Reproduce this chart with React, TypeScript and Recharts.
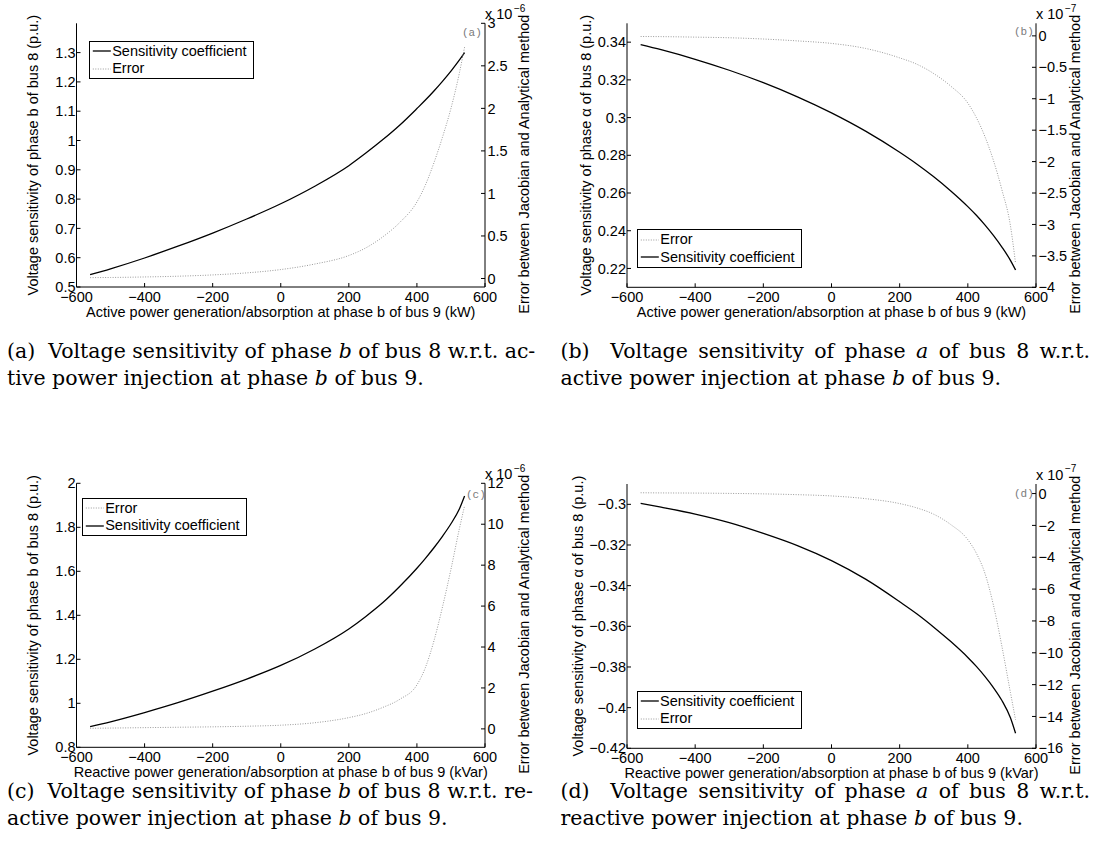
import React from 'react';
import { LineChart, Line, XAxis, YAxis, Legend } from 'recharts';

// ---------- data ----------
const xPower = [-560, -500, -400, -300, -200, -100, 0, 100, 200, 250, 300, 350, 400, 425, 450, 475, 500, 525, 540];
const xTicks = [-600, -400, -200, 0, 200, 400, 600];

const sensA = [0.542, 0.562, 0.599, 0.64, 0.684, 0.732, 0.784, 0.844, 0.914, 0.957, 1.003, 1.053, 1.109, 1.138, 1.169, 1.202, 1.237, 1.275, 1.3];
const errA = [0.01, 0.012, 0.018, 0.027, 0.042, 0.066, 0.105, 0.17, 0.27, 0.36, 0.49, 0.66, 0.9, 1.1, 1.36, 1.66, 2.0, 2.42, 2.72];

const sensB = [0.3387, 0.336, 0.3309, 0.3251, 0.3185, 0.311, 0.3025, 0.2928, 0.2816, 0.2754, 0.2686, 0.2611, 0.2528, 0.2482, 0.2431, 0.2375, 0.2313, 0.2243, 0.2192];
const errB = [-0.01, -0.012, -0.02, -0.03, -0.05, -0.08, -0.12, -0.2, -0.35, -0.45, -0.6, -0.8, -1.07, -1.3, -1.6, -1.98, -2.45, -3.02, -3.62];

const sensC = [0.894, 0.916, 0.958, 1.004, 1.055, 1.11, 1.172, 1.247, 1.338, 1.395, 1.458, 1.532, 1.614, 1.659, 1.707, 1.759, 1.816, 1.884, 1.942];
const errC = [0.03, 0.04, 0.06, 0.08, 0.1, 0.13, 0.18, 0.3, 0.55, 0.75, 1.05, 1.45, 2.15, 3.0, 4.3, 5.95, 7.8, 9.8, 10.9];

const sensD = [-0.2995, -0.3014, -0.3048, -0.309, -0.3143, -0.3203, -0.3277, -0.3368, -0.3479, -0.3538, -0.3604, -0.3675, -0.3753, -0.3797, -0.3846, -0.3901, -0.3965, -0.405, -0.4126];
const errD = [0.05, 0.04, 0.03, 0.01, -0.02, -0.07, -0.15, -0.32, -0.63, -0.9, -1.3, -1.95, -2.9, -3.75, -5.0, -7.0, -9.6, -12.5, -14.2];

const leftTicksA = [0.5, 0.6, 0.7, 0.8, 0.9, 1, 1.1, 1.2, 1.3];
const rightTicksA = [0, 0.5, 1, 1.5, 2, 2.5, 3];
const leftTicksB = [0.22, 0.24, 0.26, 0.28, 0.3, 0.32, 0.34];
const rightTicksB = [-4, -3.5, -3, -2.5, -2, -1.5, -1, -0.5, 0];
const leftTicksC = [0.8, 1, 1.2, 1.4, 1.6, 1.8, 2];
const rightTicksC = [0, 2, 4, 6, 8, 10, 12];
const leftTicksD = [-0.42, -0.4, -0.38, -0.36, -0.34, -0.32, -0.3];
const rightTicksD = [-16, -14, -12, -10, -8, -6, -4, -2, 0];

const SENS = 'Sensitivity coefficient';
const ERR = 'Error';

const FS = 14.5;
const fmt = (v: number) => String(v).replace('-', '\u2212');

const seriesStyle: Record<string, { stroke: string; width: number; dash?: string }> = {
  [SENS]: { stroke: '#000', width: 1.3 },
  [ERR]: { stroke: '#9a9a9a', width: 1, dash: '1 1.5' },
};

// ---------- labels ----------
const XLab = (props: any) => {
  const vb = props.viewBox || { x: 0, y: 0, width: 0, height: 0 };
  return (
    <text x={vb.x + vb.width / 2} y={vb.y + props.off} textAnchor="middle" dominantBaseline="central" fontSize={FS} fill="#000">
      {props.text}
    </text>
  );
};

const LeftLab = (props: any) => {
  const vb = props.viewBox || { x: 0, y: 0, width: 0, height: 0 };
  const x = vb.x + props.cx;
  const y = vb.y + vb.height / 2 + (props.dy || 0);
  return (
    <text transform={`translate(${x},${y}) rotate(-90)`} x={0} y={0} textAnchor="middle" dominantBaseline="central" fontSize={FS} fill="#000">
      {props.text}
    </text>
  );
};

const RightLab = (props: any) => {
  const vb = props.viewBox || { x: 0, y: 0, width: 0, height: 0 };
  const x = vb.x + 39;
  const y = vb.y + vb.height / 2 + 9;
  return (
    <g>
      <text transform={`translate(${x},${y}) rotate(-90)`} x={0} y={0} textAnchor="middle" dominantBaseline="central" fontSize={FS} fill="#000">
        Error between Jacobian and Analytical method
      </text>
      <text x={vb.x} y={vb.y - 4.3} fontSize={FS} fill="#000">
        x 10
        <tspan dx={1.5} dy={-7.5} fontSize={10}>{'\u2212' + props.exp}</tspan>
      </text>
    </g>
  );
};

const renderLegend = (props: any, order: string[]) => {
  const payload = [...(props.payload || [])].sort((a: any, b: any) => order.indexOf(a.value) - order.indexOf(b.value));
  return (
    <div style={{ border: '1.5px solid #000', background: '#fff', width: 165.6, padding: '1px 0', boxSizing: 'border-box', fontFamily: '"Liberation Sans", Arial, sans-serif' }}>
      {payload.map((p: any) => {
        const st = seriesStyle[p.value] || { stroke: '#000', width: 1 };
        return (
          <div key={p.value} style={{ display: 'flex', alignItems: 'center', height: 17.3 }}>
            <svg width={21} height={10} style={{ display: 'block' }}>
              <line x1={2.8} x2={20.8} y1={5} y2={5} stroke={st.stroke} strokeWidth={st.width} strokeDasharray={st.dash} />
            </svg>
            <span style={{ fontSize: FS, lineHeight: '17px', color: '#000', whiteSpace: 'nowrap', marginLeft: 1.5 }}>{p.value}</span>
          </div>
        );
      })}
    </div>
  );
};

type PanelProps = {
  left: number; top: number; width: number; height: number;
  plotLeft: number; plotRight: number; plotTop: number; plotBottom: number;
  sens: number[]; err: number[];
  leftDomain: [number, number]; leftTicks: number[];
  rightDomain: [number, number]; rightTicks: number[];
  yLabel: string; xLabel: string; yLabelX: number;
  order: string[]; legendX: number; legendY: number;
  exp: string; tag: string; tagX: number; tagY: number;
};

const Panel = (p: PanelProps) => {
  const rows = xPower.map((x, i) => ({ x, sens: p.sens[i], err: p.err[i] }));
  const sensLine = (
    <Line key="s" yAxisId="l" type="monotone" dataKey="sens" name={SENS} stroke="#000" strokeWidth={1.3} dot={false} activeDot={false} isAnimationActive={false} />
  );
  const errLine = (
    <Line key="e" yAxisId="r" type="monotone" dataKey="err" name={ERR} stroke="#9a9a9a" strokeWidth={1} strokeDasharray="1 1.5" dot={false} activeDot={false} isAnimationActive={false} />
  );
  const lines = p.order[0] === SENS ? [sensLine, errLine] : [errLine, sensLine];
  return (
    <div style={{ position: 'absolute', left: p.left, top: p.top, width: p.width, height: p.height }}>
      <LineChart width={p.width} height={p.height} data={rows} margin={{ top: p.plotTop, right: 0, bottom: 0, left: 0 }}>
        <XAxis
          xAxisId={0}
          dataKey="x"
          type="number"
          domain={[-600, 600]}
          ticks={xTicks}
          interval={0}
          allowDataOverflow
          height={p.height - p.plotBottom}
          tickSize={-4}
          tickMargin={8.7}
          tickFormatter={fmt}
          tick={{ fontSize: FS, fill: '#000' }}
          axisLine={{ stroke: '#000' }}
          tickLine={{ stroke: '#000' }}
          label={<XLab text={p.xLabel} off={24.5} />}
        />
        <XAxis
          xAxisId="top"
          dataKey="x"
          type="number"
          orientation="top"
          domain={[-600, 600]}
          height={0}
          tick={false}
          tickLine={false}
          axisLine={{ stroke: '#5a1f1f' }}
        />
        <YAxis
          yAxisId="l"
          type="number"
          domain={p.leftDomain}
          ticks={p.leftTicks}
          interval={0}
          allowDataOverflow
          width={p.plotLeft}
          tickSize={-4}
          tickMargin={5}
          tickFormatter={fmt}
          tick={{ fontSize: FS, fill: '#000' }}
          axisLine={{ stroke: '#000' }}
          tickLine={{ stroke: '#000' }}
          label={<LeftLab text={p.yLabel} cx={p.yLabelX} />}
        />
        <YAxis
          yAxisId="r"
          orientation="right"
          type="number"
          domain={p.rightDomain}
          ticks={p.rightTicks}
          interval={0}
          allowDataOverflow
          width={p.width - p.plotRight}
          tickSize={-4}
          tickMargin={6.5}
          tickFormatter={fmt}
          tick={{ fontSize: FS, fill: '#000', textAnchor: 'start' }}
          axisLine={{ stroke: '#000' }}
          tickLine={{ stroke: '#000' }}
          label={<RightLab exp={p.exp} />}
        />
        {lines}
        <Legend
          layout="vertical"
          align="center"
          verticalAlign="middle"
          content={(lp: any) => renderLegend(lp, p.order)}
          wrapperStyle={{ left: p.legendX, top: p.legendY, width: 'auto', height: 'auto', right: 'auto', bottom: 'auto' }}
        />
      </LineChart>
      <span style={{ position: 'absolute', left: p.tagX, top: p.tagY - 6.5, fontFamily: '"Liberation Mono", "DejaVu Sans Mono", monospace', fontSize: 11, lineHeight: '13px', color: '#7a7a7a' }}>
        {p.tag}
      </span>
    </div>
  );
};

const capStyle: React.CSSProperties = {
  position: 'absolute',
  fontFamily: '"DejaVu Serif", serif',
  fontSize: 20.5,
  lineHeight: '27px',
  color: '#000',
};

const Caption = ({ left, top, width, line1, line2 }: { left: number; top: number; width: number; line1: React.ReactNode; line2: React.ReactNode }) => (
  <>
    <div style={{ ...capStyle, left, top, width, textAlign: 'justify', textAlignLast: 'justify', whiteSpace: 'nowrap' }}>{line1}</div>
    <div style={{ ...capStyle, left, top: top + 27, width, whiteSpace: 'nowrap' }}>{line2}</div>
  </>
);

export default function App() {
  const activeLabel = 'Active power generation/absorption at phase b of bus 9 (kW)';
  const reactiveLabel = 'Reactive power generation/absorption at phase b of bus 9 (kVar)';
  return (
    <div style={{ position: 'absolute', left: 0, top: 0, width: 1099, height: 859, background: '#fff', overflow: 'hidden', fontFamily: '"Liberation Sans", Arial, sans-serif' }}>
      <Panel
        left={0} top={0} width={550} height={330}
        plotLeft={76.5} plotRight={485} plotTop={23.3} plotBottom={287}
        sens={sensA} err={errA}
        leftDomain={[0.5, 1.4]} leftTicks={leftTicksA}
        rightDomain={[-0.1, 3]} rightTicks={rightTicksA}
        yLabel="Voltage sensitivity of phase b of bus 8 (p.u.)" xLabel={activeLabel} yLabelX={33}
        order={[SENS, ERR]} legendX={88.7} legendY={40.7}
        exp="6" tag="(a)" tagX={462} tagY={33}
      />
      <Panel
        left={550} top={0} width={549} height={330}
        plotLeft={77} plotRight={486} plotTop={23.3} plotBottom={287.3}
        sens={sensB} err={errB}
        leftDomain={[0.21, 0.35]} leftTicks={leftTicksB}
        rightDomain={[-4, 0.2]} rightTicks={rightTicksB}
        yLabel={'Voltage sensitivity of phase  \u03b1 of bus 8 (p.u.)'} xLabel={activeLabel} yLabelX={35.5}
        order={[ERR, SENS]} legendX={86.8} legendY={229.3}
        exp="7" tag="(b)" tagX={464} tagY={32.7}
      />
      <Panel
        left={0} top={440} width={550} height={345}
        plotLeft={76.5} plotRight={485} plotTop={43.3} plotBottom={307.3}
        sens={sensC} err={errC}
        leftDomain={[0.8, 2]} leftTicks={leftTicksC}
        rightDomain={[-0.9, 12]} rightTicks={rightTicksC}
        yLabel="Voltage sensitivity of phase b of bus 8 (p.u.)" xLabel={reactiveLabel} yLabelX={33}
        order={[ERR, SENS]} legendX={81.7} legendY={57.7}
        exp="6" tag="(c)" tagX={466} tagY={55}
      />
      <Panel
        left={550} top={440} width={549} height={345}
        plotLeft={77} plotRight={486} plotTop={44} plotBottom={308.3}
        sens={sensD} err={errD}
        leftDomain={[-0.42, -0.29]} leftTicks={leftTicksD}
        rightDomain={[-16, 0.6]} rightTicks={rightTicksD}
        yLabel={'Voltage sensitivity of phase  \u03b1 of bus 8 (p.u.)'} xLabel={reactiveLabel} yLabelX={28}
        order={[SENS, ERR]} legendX={86.5} legendY={250.7}
        exp="7" tag="(d)" tagX={464} tagY={54}
      />
      <Caption left={7} top={337.7} width={526}
        line1={<>(a){'\u00a0'} Voltage sensitivity of phase <i>b</i> of bus 8 w.r.t. ac-</>}
        line2={<>tive power injection at phase <i>b</i> of bus 9.</>} />
      <Caption left={560.5} top={337.7} width={529.5}
        line1={<>(b){'\u00a0'} Voltage sensitivity of phase <i>a</i> of bus 8 w.r.t.</>}
        line2={<>active power injection at phase <i>b</i> of bus 9.</>} />
      <Caption left={7} top={777.7} width={526}
        line1={<>(c){'\u00a0'} Voltage sensitivity of phase <i>b</i> of bus 8 w.r.t. re-</>}
        line2={<>active power injection at phase <i>b</i> of bus 9.</>} />
      <Caption left={560.5} top={777.7} width={529.5}
        line1={<>(d){'\u00a0'} Voltage sensitivity of phase <i>a</i> of bus 8 w.r.t.</>}
        line2={<>reactive power injection at phase <i>b</i> of bus 9.</>} />
    </div>
  );
}
